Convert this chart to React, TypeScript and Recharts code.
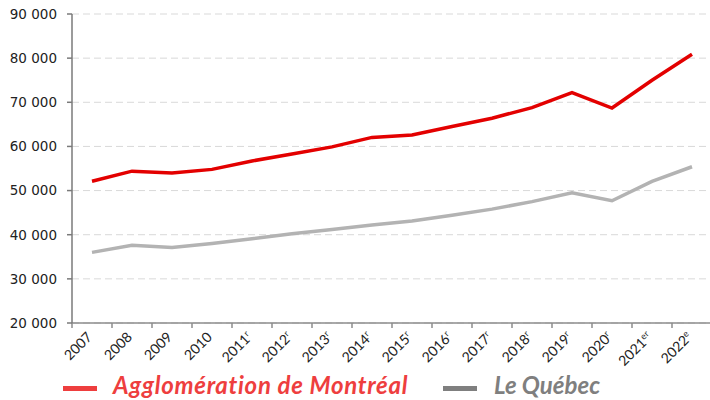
import React from "react";
import { LineChart, Line, XAxis, YAxis, CartesianGrid, Legend } from "recharts";

const years = ["2007", "2008", "2009", "2010", "2011", "2012", "2013", "2014", "2015", "2016", "2017", "2018", "2019", "2020", "2021", "2022"];
const yearSup = ["", "", "", "", "r", "r", "r", "r", "r", "r", "r", "r", "r", "r", "er", "e"];
const montreal = [52100, 54400, 54000, 54800, 56700, 58300, 59900, 62050, 62600, 64500, 66400, 68800, 72200, 68700, 75000, 80900];
const quebec = [36000, 37600, 37100, 38000, 39100, 40200, 41200, 42200, 43100, 44400, 45800, 47500, 49500, 47700, 52100, 55400];
const yTicks = [20000, 30000, 40000, 50000, 60000, 70000, 80000, 90000];
const seriesNames = ["Agglomération de Montréal", "Le Québec"];

const data = years.map((y, i) => ({ i, year: y, montreal: montreal[i], quebec: quebec[i] }));
const boundaries = [...years.map((_, i) => i - 0.5), years.length - 0.5];

const CHART_W = 720;
const CHART_H = 400;
const MARGIN = { top: 14, right: 8, left: 0, bottom: 0 };
const Y_W = 72;
const PLOT_W = CHART_W - MARGIN.left - MARGIN.right - Y_W;
const BAND = PLOT_W / years.length;

const fmt = (v: number) => {
  const s = String(v);
  return s.replace(/\B(?=(\d{3})+(?!\d))/g, " ");
};

const XTick = (props: any) => {
  const { x, y, payload } = props;
  const idx = Math.round(payload.value + 0.5);
  if (idx < 0 || idx >= years.length) return null;
  return (
    <g transform={`translate(${x + BAND / 2 + 1},${y + 8})`}>
      <text
        transform="rotate(-45)"
        textAnchor="end"
        fontFamily="Lato, 'Open Sans', sans-serif"
        fontSize={14}
        fill="#222"
      >
        <tspan>{years[idx]}</tspan>
        {yearSup[idx] ? (
          <tspan fontSize={9} dy={-5}>
            {yearSup[idx]}
          </tspan>
        ) : null}
      </text>
    </g>
  );
};

const LegendContent = () => (
  <div
    style={{
      height: 42,
      position: "relative",
      fontFamily: "Lato, 'Open Sans', sans-serif",
      fontWeight: 700,
      fontStyle: "italic",
      fontSize: 24,
    }}
  >
    <div style={{ position: "absolute", left: 63, top: 28, width: 34, height: 5, background: "#ee3e3e" }} />
    <div
      style={{
        position: "absolute",
        left: 113,
        top: 14,
        color: "#ee3e3e",
        whiteSpace: "nowrap",
        lineHeight: "26px",
        letterSpacing: "0.7px",
      }}
    >
      {seriesNames[0]}
    </div>
    <div style={{ position: "absolute", left: 443, top: 28, width: 34, height: 5, background: "#7f7f7f" }} />
    <div style={{ position: "absolute", left: 494, top: 14, color: "#7f7f7f", whiteSpace: "nowrap", lineHeight: "26px" }}>
      {seriesNames[1]}
    </div>
  </div>
);

export default function App() {
  return (
    <div style={{ position: "absolute", left: 0, top: 0 }}>
      <LineChart width={CHART_W} height={CHART_H} data={data} margin={MARGIN}>
        <CartesianGrid horizontal vertical={false} stroke="#d9d9d9" strokeDasharray="7 4" />
        <XAxis
          dataKey="i"
          type="number"
          domain={[-0.5, years.length - 0.5]}
          ticks={boundaries}
          interval={0}
          height={35}
          tick={<XTick />}
          tickSize={5}
          stroke="#8c8c8c"
          strokeWidth={1.5}
          allowDecimals
        />
        <YAxis
          domain={[20000, 90000]}
          ticks={yTicks}
          width={Y_W}
          tickSize={5}
          tickMargin={10}
          tickFormatter={fmt}
          stroke="#7a7a7a"
          strokeWidth={1.5}
          tick={{ fill: "#222", fontSize: 13.5, fontFamily: "'DejaVu Sans', Verdana, sans-serif" }}
          interval={0}
        />
        <Legend verticalAlign="bottom" content={<LegendContent />} wrapperStyle={{ left: 0, width: CHART_W }} />
        <Line
          type="linear"
          dataKey="quebec"
          name={seriesNames[1]}
          stroke="#b3b3b3"
          strokeWidth={3.5}
          dot={false}
          isAnimationActive={false}
        />
        <Line
          type="linear"
          dataKey="montreal"
          name={seriesNames[0]}
          stroke="#e30000"
          strokeWidth={3.5}
          dot={false}
          isAnimationActive={false}
        />
      </LineChart>
    </div>
  );
}
